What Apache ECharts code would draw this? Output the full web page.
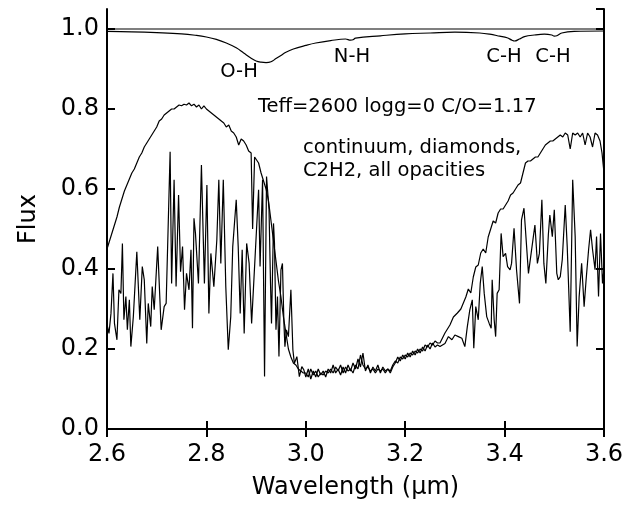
<!DOCTYPE html>
<html>
<head>
<meta charset="utf-8">
<script src="https://cdn.jsdelivr.net/npm/echarts@6/dist/echarts.min.js"></script>
<style>html,body{margin:0;padding:0;background:#fff}#c{width:637px;height:505px}</style>
</head>
<body>
<div id="c"></div>
<script>
// x tick labels
var xTicks = [2.6, 2.8, 3.0, 3.2, 3.4, 3.6];
var yTicks = [0.0, 0.2, 0.4, 0.6, 0.8, 1.0];

// continuum
var contX = [2.6, 3.6];
var contFlux = [1.0, 1.0];

// continuum + diamonds
var diaX = [2.60,2.65,2.70,2.75,2.78,2.80,2.82,2.84,2.86,2.875,2.89,2.90,2.91,2.92,2.93,2.94,2.95,2.96,2.975,3.00,3.02,3.05,3.08,3.09,3.095,3.10,3.15,3.20,3.25,3.30,3.35,3.37,3.39,3.405,3.415,3.42,3.43,3.44,3.46,3.48,3.495,3.50,3.505,3.515,3.54,3.60];
var diaFlux = [0.994,0.993,0.991,0.988,0.984,0.980,0.974,0.965,0.953,0.940,0.927,0.920,0.917,0.916,0.918,0.926,0.934,0.942,0.950,0.959,0.965,0.971,0.975,0.972,0.973,0.977,0.983,0.988,0.990,0.992,0.990,0.987,0.982,0.978,0.972,0.970,0.975,0.981,0.985,0.987,0.985,0.982,0.983,0.990,0.994,0.995];

// continuum + diamonds + C2H2
var c2h2X = [2.600,2.605,2.610,2.615,2.620,2.625,2.630,2.635,2.640,2.645,2.650,2.655,2.660,2.665,2.670,2.675,2.680,2.685,2.690,2.695,2.700,2.705,2.710,2.715,2.720,2.725,2.730,2.735,2.740,2.745,2.750,2.755,2.760,2.765,2.770,2.775,2.780,2.785,2.790,2.795,2.800,2.805,2.810,2.815,2.820,2.825,2.830,2.835,2.840,2.845,2.850,2.855,2.860,2.865,2.870,2.875,2.880,2.885,2.890,2.893,2.897,2.900,2.905,2.910,2.915,2.920,2.925,2.930,2.935,2.940,2.945,2.950,2.955,2.960,2.965,2.970,2.975,2.980,2.985,2.990,2.995,
3.000,3.005,3.010,3.015,3.020,3.025,3.030,3.035,3.040,3.045,3.050,3.055,3.060,3.065,3.070,3.075,3.080,3.085,3.090,3.095,3.100,3.105,3.110,3.115,3.120,3.125,3.130,3.135,3.140,3.145,3.150,3.155,3.160,3.165,3.170,3.175,3.180,3.185,3.190,3.195,3.200,3.205,3.210,3.215,3.220,3.225,3.230,3.235,3.240,3.245,3.250,3.255,3.260,3.265,
3.270,3.280,3.290,3.297,3.305,3.312,3.317,3.322,3.327,3.332,3.337,3.342,3.347,3.352,3.357,3.362,3.367,3.372,3.377,3.382,3.387,3.392,3.397,3.402,3.407,3.412,3.417,3.422,3.427,3.432,3.437,3.442,3.447,3.452,3.457,3.462,3.467,3.472,3.477,3.482,3.487,3.492,3.497,3.502,3.507,3.512,3.517,3.522,3.527,3.532,3.537,3.542,3.547,3.552,3.557,3.562,3.567,3.572,3.577,3.582,3.587,3.592,3.596,3.600];
var c2h2Flux = [0.45,0.47,0.49,0.51,0.53,0.555,0.575,0.595,0.61,0.625,0.64,0.65,0.665,0.68,0.69,0.705,0.715,0.725,0.735,0.745,0.755,0.77,0.775,0.785,0.79,0.795,0.80,0.80,0.805,0.81,0.808,0.812,0.81,0.815,0.808,0.812,0.805,0.81,0.80,0.808,0.80,0.795,0.79,0.785,0.78,0.775,0.77,0.765,0.755,0.76,0.745,0.74,0.73,0.71,0.725,0.72,0.71,0.695,0.69,0.50,0.68,0.68,0.665,0.64,0.62,0.60,0.57,0.52,0.47,0.42,0.37,0.33,0.28,0.24,0.20,0.18,0.165,0.16,0.15,0.145,0.14,
0.14,0.13,0.15,0.135,0.145,0.13,0.14,0.135,0.145,0.14,0.15,0.14,0.155,0.145,0.16,0.14,0.155,0.145,0.15,0.14,0.16,0.15,0.185,0.16,0.15,0.155,0.145,0.15,0.14,0.15,0.145,0.15,0.14,0.15,0.145,0.16,0.17,0.165,0.18,0.175,0.185,0.18,0.19,0.185,0.195,0.19,0.20,0.195,0.21,0.205,0.215,0.21,0.22,0.215,
0.215,0.24,0.26,0.28,0.29,0.30,0.315,0.33,0.35,0.34,0.38,0.405,0.41,0.44,0.45,0.44,0.48,0.50,0.52,0.515,0.54,0.55,0.55,0.56,0.57,0.585,0.59,0.60,0.61,0.615,0.64,0.665,0.67,0.67,0.675,0.68,0.68,0.69,0.70,0.71,0.715,0.72,0.72,0.725,0.73,0.735,0.73,0.74,0.735,0.70,0.74,0.735,0.74,0.73,0.74,0.71,0.74,0.73,0.705,0.74,0.735,0.72,0.69,0.64];

// all opacities
var allX = [2.601,2.604,2.608,2.612,2.615,2.620,2.624,2.628,2.631,2.634,2.638,2.641,2.645,2.648,2.653,2.660,2.666,2.671,2.675,2.680,2.683,2.688,2.691,2.695,2.702,2.709,2.715,2.719,2.727,2.730,2.735,2.739,2.744,2.748,2.752,2.756,2.760,2.765,2.769,2.772,2.775,2.778,2.784,2.790,2.796,2.801,2.805,
2.809,2.815,2.821,2.825,2.829,2.834,2.839,2.844,2.849,2.853,2.860,2.864,2.868,2.872,2.876,2.881,2.886,2.891,2.898,2.905,2.908,2.913,2.917,2.921,2.926,2.929,2.931,2.935,2.937,2.940,2.943,2.946,2.950,2.953,2.956,2.958,2.961,2.965,2.970,2.974,2.977,2.982,2.987,2.992,2.996,
3.000,3.005,3.010,3.015,3.020,3.025,3.030,3.035,3.040,3.045,3.050,3.055,3.060,3.065,3.070,3.075,3.080,3.085,3.090,3.095,3.100,3.105,3.110,3.115,3.120,3.125,3.130,3.135,3.140,3.145,3.150,3.155,3.160,3.165,3.170,3.175,3.180,3.185,3.190,3.195,3.200,3.205,3.210,3.215,3.220,3.225,3.230,3.235,3.240,3.245,3.250,3.255,3.260,3.265,
3.270,3.280,3.287,3.294,3.300,3.307,3.314,3.320,3.325,3.330,3.335,3.338,3.342,3.347,3.351,3.355,3.359,3.364,3.369,3.373,3.375,3.379,3.382,3.385,3.389,3.393,3.397,3.402,3.406,3.411,3.414,3.419,3.424,3.430,3.434,3.439,3.443,3.448,3.452,3.457,3.461,3.466,3.470,3.475,3.479,3.483,3.488,3.491,3.496,3.500,3.505,3.508,3.512,3.516,3.522,3.526,3.532,3.537,3.542,3.546,3.550,3.555,3.560,3.564,3.569,3.573,3.577,3.582,3.585,3.589,3.593,3.597,3.600];
var allFlux = [0.256,0.239,0.289,0.389,0.264,0.223,0.348,0.339,0.464,0.273,0.331,0.248,0.323,0.206,0.281,0.443,0.273,0.406,0.373,0.214,0.314,0.256,0.356,0.298,0.456,0.248,0.306,0.314,0.693,0.364,0.623,0.356,0.585,0.393,0.456,0.298,0.389,0.348,0.448,0.252,0.527,0.489,0.364,0.660,0.364,0.610,0.289,
0.439,0.356,0.473,0.623,0.414,0.623,0.356,0.198,0.281,0.456,0.573,0.456,0.289,0.448,0.239,0.464,0.414,0.264,0.431,0.598,0.406,0.623,0.131,0.631,0.548,0.364,0.264,0.514,0.464,0.248,0.331,0.181,0.398,0.414,0.264,0.206,0.248,0.231,0.348,0.198,0.164,0.181,0.131,0.156,0.148,
0.13,0.15,0.125,0.145,0.13,0.15,0.135,0.145,0.13,0.15,0.14,0.16,0.14,0.15,0.135,0.155,0.14,0.16,0.145,0.165,0.15,0.175,0.155,0.19,0.145,0.16,0.14,0.155,0.145,0.16,0.14,0.155,0.145,0.15,0.14,0.155,0.165,0.18,0.17,0.185,0.175,0.19,0.18,0.195,0.185,0.20,0.19,0.205,0.195,0.21,0.20,0.215,0.205,0.21,
0.206,0.214,0.231,0.223,0.235,0.231,0.227,0.206,0.256,0.298,0.323,0.202,0.306,0.273,0.364,0.406,0.339,0.281,0.264,0.252,0.373,0.273,0.231,0.339,0.348,0.489,0.431,0.439,0.406,0.398,0.414,0.502,0.398,0.314,0.523,0.552,0.548,0.389,0.385,0.473,0.510,0.414,0.439,0.573,0.414,0.364,0.485,0.535,0.481,0.548,0.389,0.373,0.381,0.423,0.560,0.456,0.243,0.623,0.481,0.206,0.331,0.414,0.306,0.373,0.448,0.498,0.448,0.398,0.481,0.331,0.489,0.364,0.40];

var labels = [
  {t:'O-H', x:239, y:72, a:'center'},
  {t:'N-H', x:352, y:57, a:'center'},
  {t:'C-H', x:504, y:57, a:'center'},
  {t:'C-H', x:553, y:57, a:'center'},
  {t:'Teff=2600 logg=0 C/O=1.17', x:258, y:107, a:'left'},
  {t:'continuum, diamonds,', x:303, y:148, a:'left'},
  {t:'C2H2, all opacities', x:303, y:171, a:'left'}
];

function pairs(xs, ys){ return xs.map(function(x,i){ return [x, ys[i]]; }); }

var FONT = 'DejaVu Sans';
var chart = echarts.init(document.getElementById('c'), null, {renderer:'canvas'});

function lineSeries(name, xs, ys, smooth){
  return {name:name, type:'line', data:pairs(xs, ys), showSymbol:false, symbol:'none', smooth:smooth||false,
    lineStyle:{color:'#000', width:1.2}, animation:false, silent:true, clip:true};
}

var axisLineStyle = {show:true, lineStyle:{color:'#000', width:2}};
var tickStyle = {show:true, inside:true, length:8, lineStyle:{color:'#000', width:2}};

chart.setOption({
  animation:false,
  backgroundColor:'#fff',
  grid:{left:107, right:33, top:9, bottom:75, containLabel:false},
  xAxis:[
    {type:'value', min:2.6, max:3.6, interval:0.2, position:'bottom',
     name:'Wavelength (\u00b5m)', nameLocation:'middle', nameGap:47,
     nameTextStyle:{fontFamily:FONT, fontSize:24, color:'#000'},
     axisLine:axisLineStyle, axisTick:tickStyle, splitLine:{show:false},
     axisLabel:{fontFamily:FONT, fontSize:24, color:'#000', margin:14,
       formatter:function(v){ return xTicks.some(function(t){return Math.abs(t-v)<1e-6;}) ? v.toFixed(1) : ''; }}},
    {type:'value', min:2.6, max:3.6, interval:0.2, position:'top',
     axisLine:axisLineStyle, axisTick:tickStyle, splitLine:{show:false}, axisLabel:{show:false}}
  ],
  yAxis:[
    {type:'value', min:0, max:1.05, interval:0.2, position:'left',
     name:'Flux', nameLocation:'middle', nameGap:66,
     nameTextStyle:{fontFamily:FONT, fontSize:24, color:'#000'},
     axisLine:axisLineStyle, axisTick:tickStyle, splitLine:{show:false},
     axisLabel:{fontFamily:FONT, fontSize:24, color:'#000', margin:8, showMaxLabel:false,
       formatter:function(v){ return yTicks.some(function(t){return Math.abs(t-v)<1e-6;}) ? v.toFixed(1) : ''; }}},
    {type:'value', min:0, max:1.05, interval:0.2, position:'right',
     axisLine:axisLineStyle, axisTick:tickStyle, splitLine:{show:false}, axisLabel:{show:false}}
  ],
  series:[
    lineSeries('continuum', contX, contFlux),
    lineSeries('diamonds', diaX, diaFlux, 0.4),
    lineSeries('C2H2', c2h2X, c2h2Flux),
    lineSeries('all opacities', allX, allFlux)
  ],
  graphic: labels.map(function(l){
    return {type:'text', x:l.x, y:l.y, silent:true,
      style:{text:l.t, fontFamily:FONT, fontSize:19.5, fill:'#000', align:l.a, verticalAlign:'middle'}};
  })
});
</script>
</body>
</html>
